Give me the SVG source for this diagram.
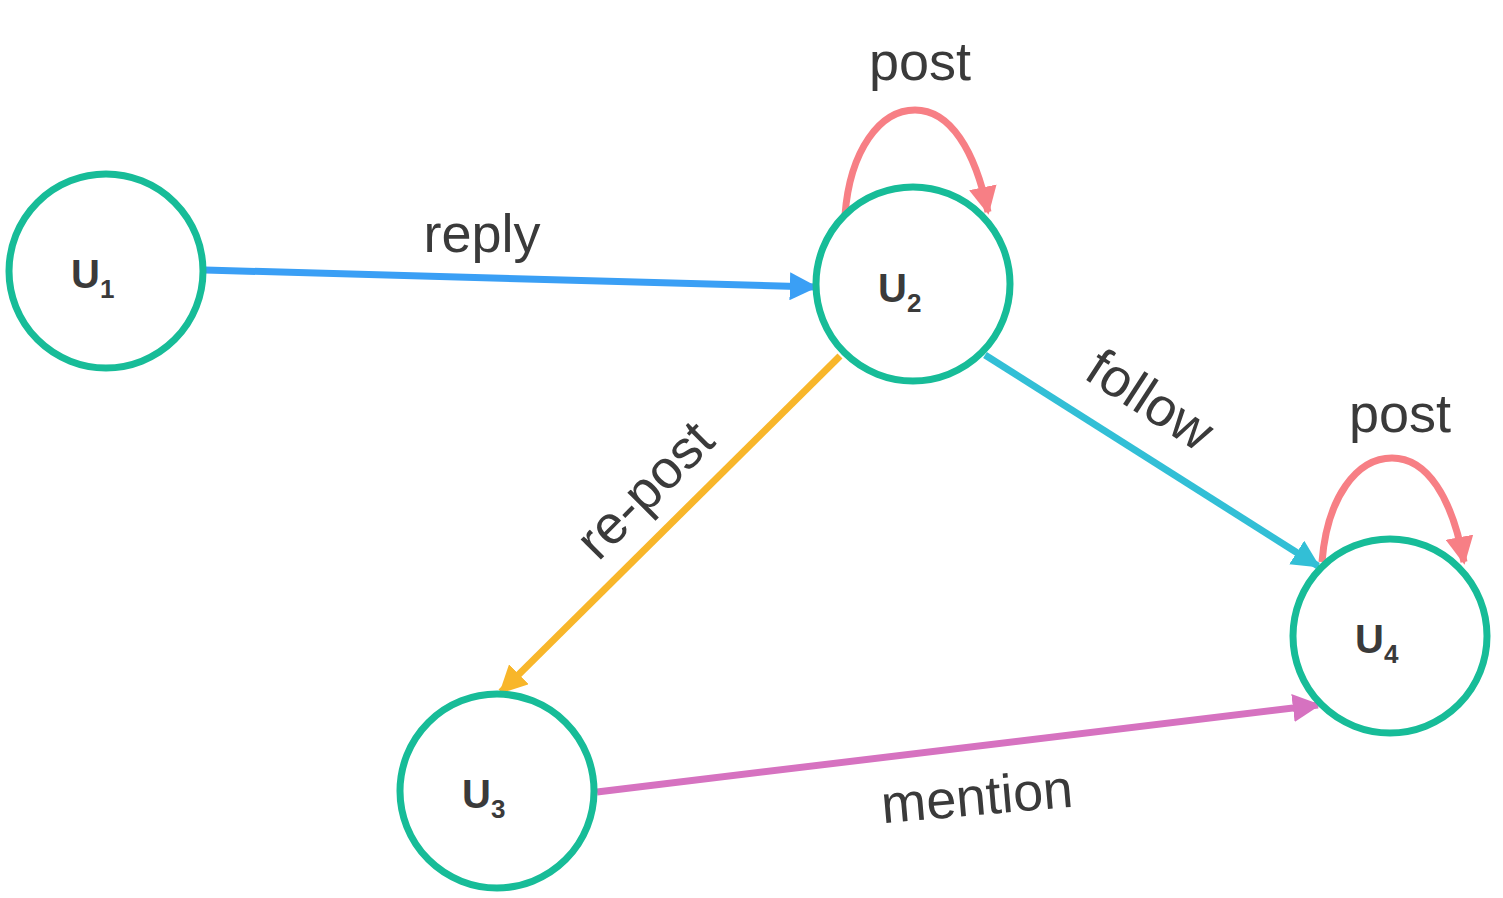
<svg xmlns="http://www.w3.org/2000/svg" width="1503" height="898" viewBox="0 0 1503 898">
<style>
.n{fill:#fff;stroke:#17bc98;stroke-width:7}
.u{font-family:"Liberation Sans",Arial,sans-serif;font-weight:bold;font-size:40px;fill:#3a3a3a}
.s{font-size:26px}
.l{font-family:"Liberation Sans",Arial,sans-serif;font-size:54px;fill:#3a3a3a}
.e{fill:none;stroke-width:7}
</style>
<defs>
<marker id="ab" viewBox="0 0 10 10" refX="9" refY="5" markerWidth="4" markerHeight="4" orient="auto" markerUnits="strokeWidth"><path d="M0,0L10,5L0,10z" fill="#3a9ff5"/></marker>
<marker id="ap" viewBox="0 0 10 10" refX="9" refY="5" markerWidth="4" markerHeight="4" orient="auto" markerUnits="strokeWidth"><path d="M0,0L10,5L0,10z" fill="#f77f85"/></marker>
<marker id="ac" viewBox="0 0 10 10" refX="9" refY="5" markerWidth="4" markerHeight="4" orient="auto" markerUnits="strokeWidth"><path d="M0,0L10,5L0,10z" fill="#32bfd6"/></marker>
<marker id="ao" viewBox="0 0 10 10" refX="9" refY="5" markerWidth="4" markerHeight="4" orient="auto" markerUnits="strokeWidth"><path d="M0,0L10,5L0,10z" fill="#f8b62a"/></marker>
<marker id="am" viewBox="0 0 10 10" refX="9" refY="5" markerWidth="4" markerHeight="4" orient="auto" markerUnits="strokeWidth"><path d="M0,0L10,5L0,10z" fill="#d672c0"/></marker>
</defs>
<g id="connectors">
<path class="e" stroke="#3a9ff5" d="M205,270L815,287" marker-end="url(#ab)"/>
<path class="e" stroke="#f77f85" d="M845,215C850,150 880,110 915,110C950,110 975,150 988,212" marker-end="url(#ap)"/>
<path class="e" stroke="#32bfd6" d="M985,355L1318,566" marker-end="url(#ac)"/>
<path class="e" stroke="#f8b62a" d="M840,356L501,692" marker-end="url(#ao)"/>
<path class="e" stroke="#d672c0" d="M597,792L1318,705" marker-end="url(#am)"/>
<path class="e" stroke="#f77f85" d="M1322,562C1327,497 1357,458 1392,458C1427,458 1452,497 1464,562" marker-end="url(#ap)"/>
<text class="l" x="482" y="252" text-anchor="middle">reply</text>
<text class="l" x="920" y="80" text-anchor="middle">post</text>
<text class="l" x="1150" y="418" text-anchor="middle" transform="rotate(33 1150 400)">follow</text>
<text class="l" x="645" y="508" text-anchor="middle" transform="rotate(-45 645 490)">re-post</text>
<text class="l" x="977" y="815" text-anchor="middle" transform="rotate(-5 977 797)">mention</text>
<text class="l" x="1400" y="432" text-anchor="middle">post</text>
</g>
<g id="U1"><circle class="n" cx="106" cy="271" r="97"/><text class="u" x="71" y="288">U<tspan class="s" dy="10">1</tspan></text></g>
<g id="U2"><circle class="n" cx="913" cy="284" r="97"/><text class="u" x="878" y="302">U<tspan class="s" dy="10">2</tspan></text></g>
<g id="U3"><circle class="n" cx="497" cy="791" r="97"/><text class="u" x="462" y="808">U<tspan class="s" dy="10">3</tspan></text></g>
<g id="U4"><circle class="n" cx="1390" cy="636" r="97"/><text class="u" x="1355" y="653">U<tspan class="s" dy="10">4</tspan></text></g>
</svg>
